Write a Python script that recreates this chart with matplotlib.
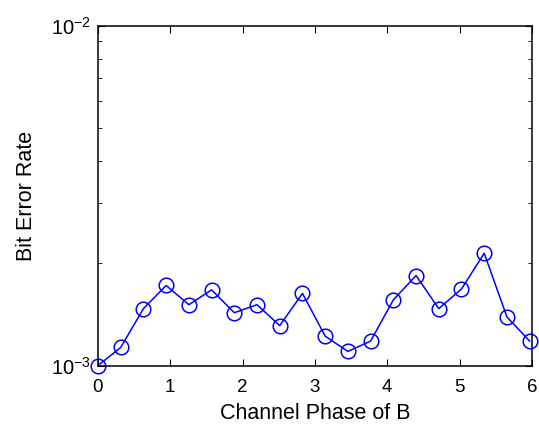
import matplotlib
matplotlib.use("Agg")
import matplotlib.pyplot as plt
import numpy as np
from matplotlib.ticker import LogLocator, NullFormatter, FixedLocator

plt.rcParams["font.family"] = ["Liberation Sans", "DejaVu Sans"]
plt.rcParams["mathtext.fontset"] = "custom"
plt.rcParams["mathtext.rm"] = "Liberation Sans"
plt.rcParams["mathtext.it"] = "Liberation Sans:italic"

# channel phase sampled in steps of pi/10
phase = np.arange(20) * np.pi / 10
ber = [1.00e-3, 1.13e-3, 1.47e-3, 1.72e-3, 1.51e-3, 1.67e-3, 1.43e-3, 1.51e-3,
       1.31e-3, 1.63e-3, 1.22e-3, 1.10e-3, 1.18e-3, 1.56e-3, 1.84e-3, 1.47e-3,
       1.68e-3, 2.14e-3, 1.39e-3, 1.18e-3]

fig = plt.figure(figsize=(5.39, 4.30), dpi=100, facecolor="white")
ax = fig.add_axes([0.1818, 0.15, 0.805, 0.79])

ax.plot(phase, ber, color="blue", linewidth=1.1, marker="o", markersize=10.5,
        markerfacecolor="none", markeredgecolor="blue", markeredgewidth=1.1,
        clip_on=False, zorder=3)

ax.set_yscale("log")
ax.set_xlim(0, 6)
ax.set_ylim(1e-3, 1e-2)
ax.xaxis.set_major_locator(FixedLocator(range(7)))
ax.yaxis.set_major_locator(LogLocator(base=10))
ax.yaxis.set_minor_locator(LogLocator(base=10, subs=np.arange(2, 10)))
ax.yaxis.set_minor_formatter(NullFormatter())

ax.tick_params(which="both", direction="in", top=True, right=True,
               labelsize=13.5, colors="black")
ax.tick_params(which="major", length=5, width=0.8)
ax.tick_params(which="minor", length=3, width=0.6)
ax.tick_params(axis="x", pad=10)
ax.tick_params(axis="y", pad=5, labelsize=14.5)
for s in ax.spines.values():
    s.set_linewidth(1.1)

ax.set_xlabel("Channel Phase of B", fontsize=15.5, labelpad=4.5)
ax.set_ylabel("Bit Error Rate", fontsize=15.5, labelpad=10)

fig.savefig("out.png", dpi=100)
